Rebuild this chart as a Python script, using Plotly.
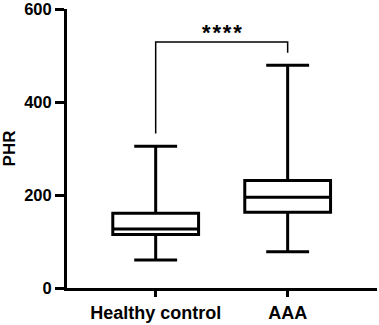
import plotly.graph_objects as go

groups = ["Healthy control", "AAA"]
lower = [60, 78]
q1 = [115, 163]
median = [127, 195]
q3 = [161, 231]
upper = [305, 479]

sig_label = "*\u200a*\u200a*\u200a*"
bracket_y = 529
bracket_left_bottom = 332
bracket_right_bottom = 506

yticks = [0, 200, 400, 600]

fig = go.Figure()
for i, g in enumerate(groups):
    fig.add_trace(go.Box(
        x=[i], q1=[q1[i]], median=[median[i]], q3=[q3[i]],
        lowerfence=[lower[i]], upperfence=[upper[i]],
        width=0.65, whiskerwidth=0.5,
        fillcolor="white", line=dict(color="black", width=3),
        boxpoints=False, showlegend=False, name=g,
    ))

fig.add_shape(type="path",
              path=f"M 0,{bracket_left_bottom} V {bracket_y} H 1 V {bracket_right_bottom}",
              line=dict(color="black", width=1.5), xref="x", yref="y")
fig.add_annotation(x=0.5, y=bracket_y, yshift=10, text=f"<b>{sig_label}</b>",
                   showarrow=False, font=dict(size=22, color="black",
                                               family="Liberation Sans, Arial"))

fig.update_layout(
    width=379, height=335,
    margin=dict(l=67, r=2, t=19, b=34),
    plot_bgcolor="white", paper_bgcolor="white",
    font=dict(family="Liberation Sans, Arial", color="black", size=16),
    xaxis=dict(range=[-0.672, 1.677], tickvals=[0, 1],
               ticktext=[f"<b>{g}</b>" for g in groups],
               showline=True, linecolor="black", linewidth=3,
               ticks="outside", ticklen=6, tickwidth=3, tickcolor="black",
               showgrid=False, zeroline=False, tickfont=dict(size=18)),
    yaxis=dict(range=[0, 600], tickvals=yticks,
               ticktext=[f"<b>{t}</b>" for t in yticks],
               showline=True, linecolor="black", linewidth=3,
               ticks="outside", ticklen=9, tickwidth=3, tickcolor="black",
               showgrid=False, zeroline=False, tickfont=dict(size=16.5),
               title=dict(text="<b>PHR</b>", font=dict(size=17), standoff=10)),
)

fig.write_html("out.html", config={"displayModeBar": False},
               post_script="document.body.style.margin='-10px 0 0 0';document.body.style.overflow='hidden';")
